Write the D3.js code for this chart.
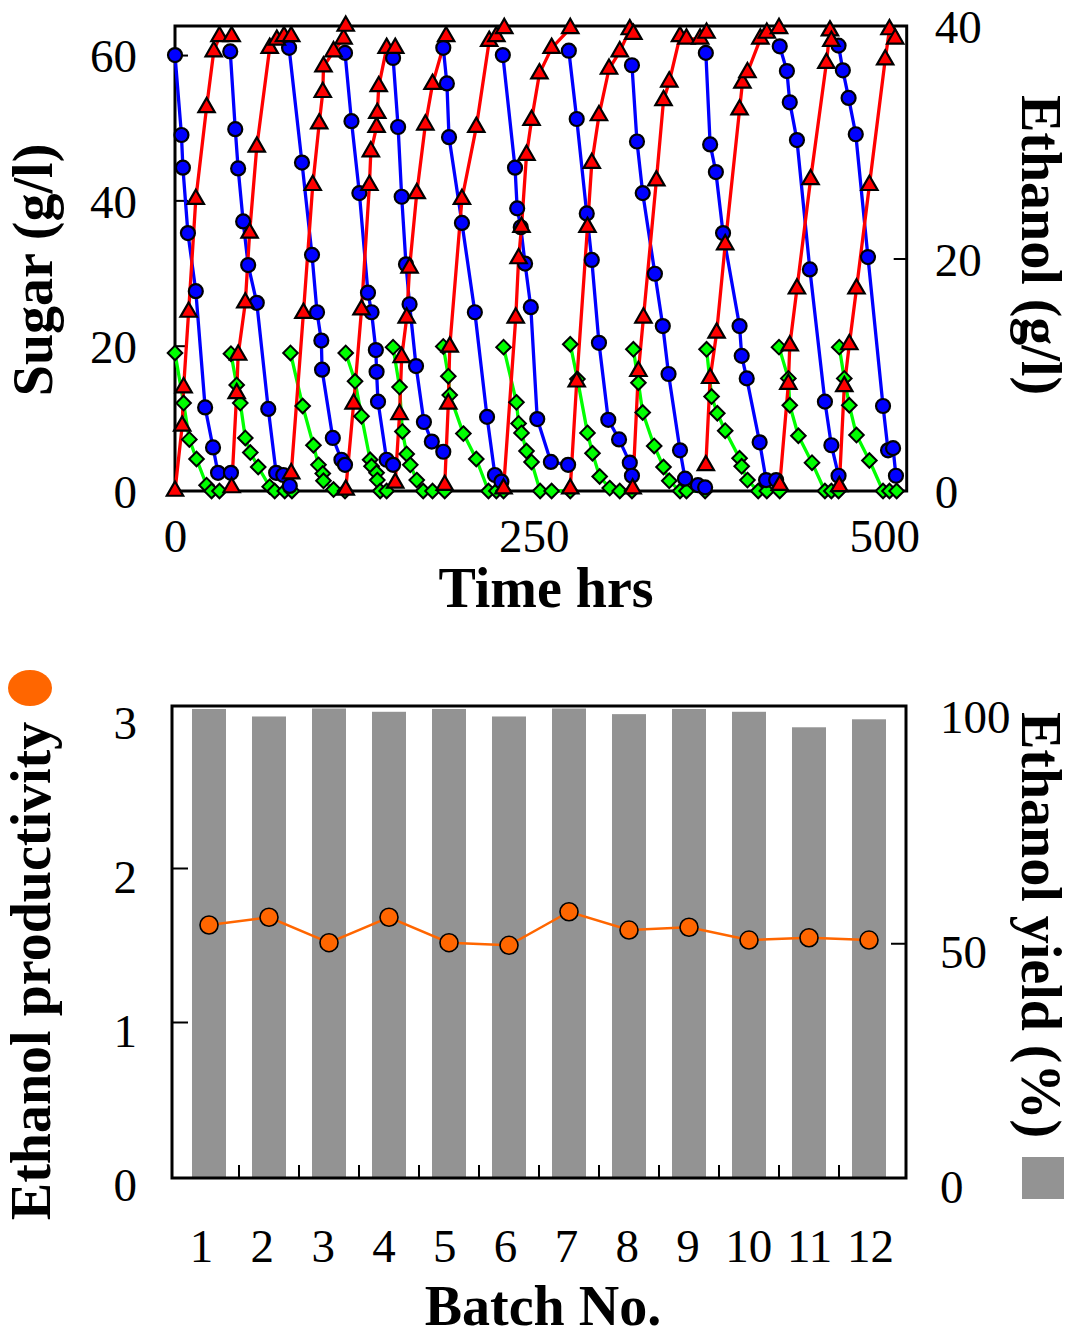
<!DOCTYPE html>
<html>
<head>
<meta charset="utf-8">
<script src="https://cdn.jsdelivr.net/npm/d3@7"></script>
<style>
  body { margin: 0; background: #fff; }
  svg { display: block; }
  text { font-family: "Liberation Serif", "Times New Roman", serif; fill: #000; }
</style>
</head>
<body>
<svg id="chart" width="1074" height="1336"></svg>
<script>
// ---------- Repeated-batch fermentation: time course (hours, g/l) ----------
// Each inner array is one batch: [time (h), concentration]
const sugarBatches = [
  [[0,60],[4.5,49],[5.5,44.5],[9,35.5],[14.5,27.5],[21,11.5],[26.5,6],[30,2.5],[39,2.5]],
  [[38.5,60.5],[42,49.8],[44,44.4],[47.5,37.1],[51,31.1],[57,25.9],[65,11.3],[70.5,2.5],[75.5,2.2],[80,0.7]],
  [[79.5,61],[88.5,45.2],[95.5,32.5],[99,24.6],[102,20.7],[102.5,16.7],[110,7.3],[116,4.3],[118.5,3.6]],
  [[118.5,60.3],[123,50.9],[128.5,41],[134.5,27.3],[137,24.6],[140,19.4],[140.5,16.4],[141.5,12.3],[147.5,4.3],[152,3.6]],
  [[152,59.6],[155.5,50.1],[158,40.5],[161,31.2],[163.5,25.7],[168,17.2],[173.5,9.5],[179,6.8],[187,5.4]],
  [[187,61],[189.5,56.1],[191,48.7],[200,36.9],[209,24.6],[217.5,10.2],[223,2.2],[227.5,1.3]],
  [[228.5,60],[237,44.5],[238.5,38.9],[241,36.3],[244,31.3],[248,25.3],[252.5,9.9],[262,4],[274,3.6]],
  [[274.5,60.6],[280,51.2],[287,38.2],[290.5,31.8],[295.5,20.4],[302,9.8],[309.5,7.1],[317,3.9],[318.5,2.1]],
  [[318.5,58.6],[322,48.1],[326,41],[334.5,29.9],[340,22.7],[344,16.1],[352,5.6],[355.5,1.7],[364.5,0.8],[369.5,0.5]],
  [[370,60.3],[373,47.7],[377,43.9],[382,35.5],[393.5,22.7],[395,18.6],[398.5,15.5],[407.5,6.7],[412,1.5],[419,1.5]],
  [[421.5,61.2],[426.5,57.8],[428.5,53.5],[433.5,48.3],[442.5,30.5],[453,12.3],[457.5,6.3],[462.5,2.1]],
  [[462.5,61.3],[465.5,57.9],[469.5,54.1],[474.5,49.1],[483,32.2],[493.5,11.7],[497,5.6],[500.5,5.9],[502.5,2.1]]
];

const ethanolBatches = [
  [[0,0],[5,5.6],[6,8.9],[9.5,15.4],[14.5,25.1],[22,33],[27,37.8],[31,39.1],[39.5,39.1]],
  [[39.5,0.3],[43,8.4],[44,11.7],[49,16.2],[52,22.2],[57,29.6],[66,38.1],[71,38.8],[76,39.1],[81,39.1]],
  [[81,1.5],[89.5,15.3],[96,26.3],[100.5,31.6],[103,34.3],[103.5,36.5],[110.5,37.8],[117.5,38.9],[119,40]],
  [[119,0.1],[124.5,7.5],[130,15.6],[135.5,26.3],[136.5,29.2],[140.5,31.3],[141,32.5],[142,34.8],[147.5,38.1],[153.5,38.1]],
  [[153.5,0.7],[156.5,6.6],[158,11.5],[161.5,14.9],[163.5,19.2],[168.5,25.6],[174.5,31.5],[179.5,35],[189,39.1]],
  [[188,0.5],[190.5,7.5],[191.5,12.4],[200,25.1],[210,31.3],[219,38.7],[224,39.1],[229.5,39.8]],
  [[229,0.2],[237.5,14.9],[239.5,20],[241.5,22.7],[245,28.9],[248.5,31.9],[254,35.9],[262.5,38.1],[275.5,39.8]],
  [[275.5,0.2],[280,9.4],[287.5,22.7],[290.5,28.2],[295.5,32.3],[302.5,36.3],[310,37.8],[317,39.7],[319.5,39.3]],
  [[319,0.2],[323,10.3],[326.5,14.9],[335.5,26.7],[340.5,33.6],[344.5,35.2],[352,39.1],[356.5,38.9],[366,38.9],[370.5,39.4]],
  [[370,2.2],[373,9.7],[377.5,13.6],[383.5,21.2],[393.5,32.8],[395.5,35.1],[399,36],[408,38.9],[412.5,39.4],[421,39.8]],
  [[421.5,0.5],[427.5,9.2],[428.5,12.5],[433.5,17.4],[443,26.8],[454,36.8],[456.5,39.6],[457.5,38.7]],
  [[463,0.4],[466.5,9],[470,12.6],[475,17.4],[484,26.3],[495,37.1],[498,39.7],[502,38.9]]
];

const minorSugarBatches = [
  [[0,19],[6,12.1],[10,7.1],[15,4.4],[22,0.8],[25.5,0],[31,0]],
  [[39,18.9],[43,14.6],[45.5,12.1],[49,7.3],[52.5,5.3],[58,3.3],[66,0.6],[69.5,0],[76.5,0],[81.5,0]],
  [[80.5,19],[89,11.7],[96.5,6.3],[100,3.6],[103,2.4],[103.5,1.4],[110.5,0.2],[118.5,0]],
  [[119,19],[125.5,15.1],[130,10.3],[136,4.3],[137,3.4],[140.5,2.5],[141,1.5],[143,0],[147.5,0]],
  [[152,19.8],[156.5,14.3],[158.5,8.2],[161.5,5.1],[164,3.6],[168.5,1.5],[173,0],[179.5,0],[188,0]],
  [[187,19.9],[190.5,15.8],[191.5,13.2],[201,7.9],[210,4.4],[218.5,0],[224,0],[229,0]],
  [[229,19.8],[238,12.2],[239.5,9.3],[241.5,8],[245,5.5],[248.5,4],[254.5,0],[262.5,0],[275.5,0]],
  [[275.5,20.2],[280.5,15.4],[287.5,8],[291,5.2],[296,2],[303,0.4],[310,0],[318.5,0]],
  [[319.5,19.5],[323,14.9],[326,10.8],[334,6.2],[340.5,3.3],[344.5,1.4],[352,0],[356.5,0],[369.5,0]],
  [[370.5,19.5],[374,13],[378,10.7],[383.5,8.3],[393.5,4.5],[395,3.4],[399,1.5],[406.5,0],[412.5,0],[421.5,0]],
  [[421,19.8],[427.5,15.5],[428.5,11.8],[434.5,7.6],[444,3.9],[453,0],[457.5,0],[462.5,0]],
  [[463,19.8],[466.5,15.5],[470,11.8],[475,7.7],[484,4.2],[493.5,0],[498,0],[503,0]]
];

const timeTicks = [0, 250, 500];
const sugarTicks = [0, 20, 40, 60];
const ethanolTicks = [0, 20, 40];

// ---------- Per-batch summary ----------
const batchNo = [1,2,3,4,5,6,7,8,9,10,11,12];
const ethanolYield = [99.9, 98.3, 100, 99.3, 99.9, 98.3, 100, 98.8, 99.9, 99.3, 96.0, 97.7];
const ethanolProductivity = [1.63, 1.68, 1.515, 1.68, 1.515, 1.498, 1.716, 1.597, 1.615, 1.532, 1.547, 1.532];
const productivityTicks = [0, 1, 2, 3];
const yieldTicks = [0, 50, 100];

// ---------- Styling ----------
const TICK_FONT = 47;
const TITLE_FONT = 56;
const BLUE = "#0000ff", RED = "#ff0000", GREEN = "#00ff00";
const ORANGE = "#ff6600", GREY = "#939393";

const svg = d3.select("#chart");

function styleAxis(g, hideLinesAt, dy) {
  g.attr("font-family", null).attr("font-size", null);
  g.select(".domain").remove();
  g.selectAll(".tick line").attr("stroke", "#000").attr("stroke-width", 2)
    .attr("display", d => hideLinesAt.includes(d) ? "none" : null);
  const t = g.selectAll(".tick text").attr("font-size", TICK_FONT).attr("fill", "#000");
  if (dy) t.attr("dy", dy);
}

// =================== Upper panel: time course ===================
const P1 = { left: 175, right: 906.7, top: 26, bottom: 491 };
const x = d3.scaleLinear().domain([0, 510]).range([P1.left, P1.right]);
const ySugar = d3.scaleLinear().domain([0, 64]).range([P1.bottom, P1.top]);
const yEth = d3.scaleLinear().domain([0, 40]).range([P1.bottom, P1.top]);

svg.append("rect")
  .attr("x", P1.left).attr("y", P1.top)
  .attr("width", P1.right - P1.left).attr("height", P1.bottom - P1.top)
  .attr("fill", "none").attr("stroke", "#000").attr("stroke-width", 3);

svg.append("g").attr("transform", `translate(${P1.left},0)`)
  .call(d3.axisLeft(ySugar).tickValues(sugarTicks).tickSizeInner(-13).tickSizeOuter(0).tickPadding(38))
  .call(g => styleAxis(g, [0], "0.36em"));

svg.append("g").attr("transform", `translate(${P1.right},0)`)
  .call(d3.axisRight(yEth).tickValues(ethanolTicks).tickSizeInner(-13).tickSizeOuter(0).tickPadding(28))
  .call(g => styleAxis(g, [0, 40], "0.36em"));

svg.append("g").attr("transform", `translate(0,${P1.bottom})`)
  .call(d3.axisBottom(x).tickValues(timeTicks).tickSize(0).tickPadding(28).tickFormat(d3.format("d")))
  .call(g => styleAxis(g, timeTicks))
  .call(g => g.selectAll(".tick text").filter(d => d === 500).attr("dx", "-0.17em"));

const lineSugar = d3.line().x(d => x(d[0])).y(d => ySugar(d[1]));
const lineEth = d3.line().x(d => x(d[0])).y(d => yEth(d[1]));

const seriesLayer = svg.append("g");
function drawLines(batches, lineGen, color) {
  seriesLayer.append("g").selectAll("path").data(batches).join("path")
    .attr("d", lineGen).attr("fill", "none")
    .attr("stroke", color).attr("stroke-width", 3.3).attr("stroke-linejoin", "round");
}
drawLines(minorSugarBatches, lineSugar, GREEN);
drawLines(sugarBatches, lineSugar, BLUE);
drawLines(ethanolBatches, lineEth, RED);

const markerLayer = svg.append("g");
// diamonds (minor sugar)
markerLayer.append("g").selectAll("path").data(minorSugarBatches.flat()).join("path")
  .attr("transform", d => `translate(${x(d[0])},${ySugar(d[1])})`)
  .attr("d", "M0,-7.3L7.3,0L0,7.3L-7.3,0Z")
  .attr("fill", GREEN).attr("stroke", "#000").attr("stroke-width", 2);
// circles (sugar)
markerLayer.append("g").selectAll("circle").data(sugarBatches.flat()).join("circle")
  .attr("cx", d => x(d[0])).attr("cy", d => ySugar(d[1])).attr("r", 7)
  .attr("fill", BLUE).attr("stroke", "#000").attr("stroke-width", 2.2);
// triangles (ethanol)
markerLayer.append("g").selectAll("path").data(ethanolBatches.flat()).join("path")
  .attr("transform", d => `translate(${x(d[0])},${yEth(d[1])})`)
  .attr("d", "M0,-9.5L8.2,4.75L-8.2,4.75Z")
  .attr("fill", RED).attr("stroke", "#000").attr("stroke-width", 2.2).attr("stroke-linejoin", "miter");

// titles
svg.append("text").attr("transform", "translate(52,270) rotate(-90)")
  .attr("text-anchor", "middle").attr("font-size", TITLE_FONT).attr("font-weight", "bold")
  .text("Sugar (g/l)");
svg.append("text").attr("transform", "translate(1022,245) rotate(90)")
  .attr("text-anchor", "middle").attr("font-size", TITLE_FONT).attr("font-weight", "bold")
  .text("Ethanol (g/l)");
svg.append("text").attr("x", 546).attr("y", 607)
  .attr("text-anchor", "middle").attr("font-size", TITLE_FONT).attr("font-weight", "bold")
  .text("Time hrs");

// =================== Lower panel: batch summary ===================
const P2 = { left: 172, right: 906, top: 706, bottom: 1178 };
const xb = d3.scalePoint().domain(batchNo).range([209, 869]);
const xbLabel = d3.scalePoint().domain(batchNo).range([201, 870]);
const yProd = d3.scaleLinear().domain([0, 3]).range([1176, 714]);
const yYield = d3.scaleLinear().domain([0, 100]).range([P2.bottom, 708.5]);
const BAR_W = 34;

svg.append("g").selectAll("rect").data(batchNo).join("rect")
  .attr("x", (b) => xb(b) - BAR_W / 2)
  .attr("y", (b, i) => yYield(ethanolYield[i]))
  .attr("width", BAR_W)
  .attr("height", (b, i) => yYield(0) - yYield(ethanolYield[i]))
  .attr("fill", GREY);

// ticks between batches along the bottom edge
const gaps = batchNo.slice(0, -1).map(b => (xb(b) + xb(b + 1)) / 2);
svg.append("g").selectAll("line").data(gaps).join("line")
  .attr("x1", d => d).attr("x2", d => d)
  .attr("y1", P2.bottom).attr("y2", P2.bottom - 13)
  .attr("stroke", "#000").attr("stroke-width", 2);

svg.append("g").attr("transform", `translate(0,${P2.bottom})`)
  .call(d3.axisBottom(xbLabel).tickSize(0).tickPadding(51))
  .call(g => styleAxis(g, batchNo));

svg.append("g").attr("transform", `translate(${P2.left},0)`)
  .call(d3.axisLeft(yProd).tickValues(productivityTicks).tickFormat(d3.format("d"))
    .tickSizeInner(-16).tickSizeOuter(0).tickPadding(35))
  .call(g => styleAxis(g, [0, 3], "0.52em"));

svg.append("g").attr("transform", `translate(${P2.right},0)`)
  .call(d3.axisRight(yYield).tickValues(yieldTicks).tickSizeInner(-15).tickSizeOuter(0).tickPadding(34))
  .call(g => styleAxis(g, [0, 100], "0.52em"));

svg.append("rect")
  .attr("x", P2.left).attr("y", P2.top)
  .attr("width", P2.right - P2.left).attr("height", P2.bottom - P2.top)
  .attr("fill", "none").attr("stroke", "#000").attr("stroke-width", 3);

svg.append("path")
  .datum(batchNo)
  .attr("d", d3.line().x(b => xb(b)).y((b, i) => yProd(ethanolProductivity[i])))
  .attr("fill", "none").attr("stroke", ORANGE).attr("stroke-width", 2.5);

svg.append("g").selectAll("circle").data(batchNo).join("circle")
  .attr("cx", b => xb(b)).attr("cy", (b, i) => yProd(ethanolProductivity[i]))
  .attr("r", 9).attr("fill", ORANGE).attr("stroke", "#000").attr("stroke-width", 1.6);

svg.append("text").attr("transform", "translate(50,971) rotate(-90)")
  .attr("text-anchor", "middle").attr("font-size", TITLE_FONT).attr("font-weight", "bold")
  .text("Ethanol productivity");
svg.append("text").attr("transform", "translate(1022,925) rotate(90)")
  .attr("text-anchor", "middle").attr("font-size", TITLE_FONT).attr("font-weight", "bold")
  .text("Ethanol yield (%)");
svg.append("text").attr("x", 543).attr("y", 1325)
  .attr("text-anchor", "middle").attr("font-size", TITLE_FONT).attr("font-weight", "bold")
  .text("Batch No.");

// legend keys next to the axis titles
svg.append("ellipse").attr("cx", 30).attr("cy", 688).attr("rx", 22).attr("ry", 18).attr("fill", ORANGE);
svg.append("rect").attr("x", 1022).attr("y", 1157).attr("width", 42).attr("height", 42).attr("fill", GREY);
</script>
</body>
</html>
